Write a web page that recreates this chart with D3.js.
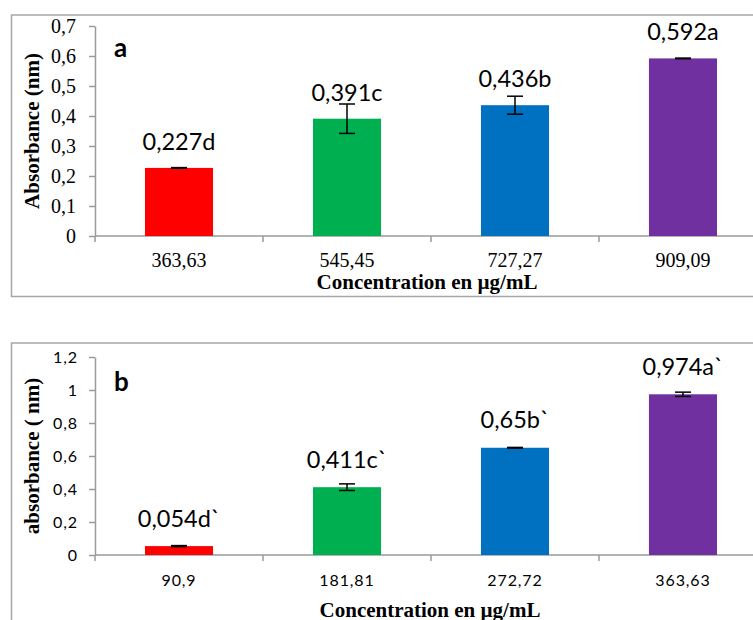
<!DOCTYPE html>
<html>
<head>
<meta charset="utf-8">
<script src="https://cdn.jsdelivr.net/npm/d3@7"></script>
<style>
  html, body { margin: 0; padding: 0; background: #fff; }
  svg { display: block; }
</style>
</head>
<body>
<svg id="chart" width="753" height="620"></svg>
<script>
// Panel a: extract concentrations and absorbances
const concA = ["363,63", "545,45", "727,27", "909,09"];
const absA = [0.227, 0.391, 0.436, 0.592];
const errA = [0.001, 0.049, 0.030, 0.001];
const lettersA = ["d", "c", "b", "a"];
const ticksA = [0, 0.1, 0.2, 0.3, 0.4, 0.5, 0.6, 0.7];

// Panel b
const concB = ["90,9", "181,81", "272,72", "363,63"];
const absB = [0.054, 0.411, 0.65, 0.974];
const errB = [0.003, 0.020, 0.002, 0.013];
const lettersB = ["d`", "c`", "b`", "a`"];
const ticksB = [0, 0.2, 0.4, 0.6, 0.8, 1, 1.2];

const barColors = ["#FF0000", "#00B050", "#0070C0", "#7030A0"];

const svg = d3.select("#chart");
const comma = v => String(+v.toFixed(3)).replace(".", ",");
const AXIS = "#9a9a9a";
const SERIF = "'Liberation Serif', 'Times New Roman', serif";
const SANS = "Lato, 'Open Sans', sans-serif";

function panel(opt) {
  const g = svg.append("g");

  // frame around the panel
  g.append("rect")
    .attr("x", 11.5).attr("y", opt.boxTop)
    .attr("width", 760).attr("height", opt.boxBottom - opt.boxTop)
    .attr("fill", "none").attr("stroke", "#a6a6a6").attr("stroke-width", 1.5);

  const x = d3.scaleBand()
    .domain(opt.cats)
    .range([95, 767])
    .paddingInner(0.595)
    .paddingOuter(0.2976);
  const y = d3.scaleLinear().domain(opt.domain).range([opt.y0, opt.yTop]);

  // y axis
  const yAxis = d3.axisLeft(y)
    .tickValues(opt.ticks)
    .tickSize(6)
    .tickSizeOuter(0)
    .tickPadding(opt.tickPad)
    .tickFormat(comma);
  const ya = g.append("g").attr("transform", "translate(95,0)").call(yAxis);
  ya.select(".domain").attr("stroke", AXIS).attr("stroke-width", 1.5);
  ya.selectAll(".tick line").attr("stroke", AXIS).attr("stroke-width", 1.5);
  ya.selectAll(".tick text")
    .attr("fill", "#000")
    .style("font-family", opt.tickFont)
    .style("font-size", opt.tickSize + "px")
    .style("letter-spacing", opt.tickSpacing + "px");

  // x axis line with boundary ticks between categories
  const [x0, x1] = x.range();
  g.append("line")
    .attr("x1", x0).attr("x2", x1)
    .attr("y1", opt.y0).attr("y2", opt.y0)
    .attr("stroke", AXIS).attr("stroke-width", 1.5);
  const half = x.step() * x.paddingInner() / 2;
  const bounds = opt.cats.map(c => x(c) - half).concat([x(opt.cats[opt.cats.length - 1]) + x.bandwidth() + half]);
  g.selectAll(".xtick").data(bounds).join("line")
    .attr("x1", d => d).attr("x2", d => d)
    .attr("y1", opt.y0).attr("y2", opt.y0 + 6)
    .attr("stroke", AXIS).attr("stroke-width", 1.5);

  // category labels
  g.selectAll(".xlab").data(opt.cats).join("text")
    .attr("x", d => x(d) + x.bandwidth() / 2)
    .attr("y", opt.y0 + 31)
    .attr("text-anchor", "middle")
    .style("font-family", opt.tickFont)
    .style("font-size", opt.tickSize + "px")
    .style("letter-spacing", opt.tickSpacing + "px")
    .text(d => d);

  // bars
  g.selectAll(".bar").data(opt.values).join("rect")
    .attr("x", (d, i) => x(opt.cats[i]))
    .attr("y", d => y(d))
    .attr("width", x.bandwidth())
    .attr("height", d => y(0) - y(d))
    .attr("fill", (d, i) => barColors[i]);

  // error bars
  const eb = g.selectAll(".err").data(opt.values).join("g")
    .attr("transform", (d, i) => `translate(${x(opt.cats[i]) + x.bandwidth() / 2},0)`)
    .attr("stroke", "#000").attr("stroke-width", 1.5);
  eb.append("line")
    .attr("y1", (d, i) => y(d + opt.errs[i]))
    .attr("y2", (d, i) => y(d - opt.errs[i]));
  eb.append("line").attr("x1", -8).attr("x2", 8)
    .attr("y1", (d, i) => y(d + opt.errs[i])).attr("y2", (d, i) => y(d + opt.errs[i]));
  eb.append("line").attr("x1", -8).attr("x2", 8)
    .attr("y1", (d, i) => y(d - opt.errs[i])).attr("y2", (d, i) => y(d - opt.errs[i]));

  // value labels with significance letters
  g.selectAll(".val").data(opt.values).join("text")
    .attr("x", (d, i) => x(opt.cats[i]) + x.bandwidth() / 2)
    .attr("y", d => y(d) - opt.labelOffset)
    .attr("text-anchor", "middle")
    .style("font-family", SANS)
    .style("font-size", "23.5px")
    .text((d, i) => comma(d) + opt.letters[i]);

  // panel letter
  g.append("text")
    .attr("x", 114).attr("y", opt.letterY)
    .style("font-family", SANS)
    .style("font-weight", "bold")
    .style("font-size", "26px")
    .text(opt.panel);

  // axis titles
  g.append("text")
    .attr("transform", `translate(38.5,${(opt.y0 + opt.yTop) / 2}) rotate(-90)`)
    .attr("text-anchor", "middle")
    .style("font-family", SERIF)
    .style("font-weight", "bold")
    .style("font-size", "21px")
    .text(opt.yTitle);
  g.append("text")
    .attr("x", opt.xTitleX).attr("y", opt.xTitleY)
    .attr("text-anchor", "middle")
    .style("font-family", SERIF)
    .style("font-weight", "bold")
    .style("font-size", "21px")
    .text("Concentration en µg/mL");
}

panel({
  cats: concA, values: absA, errs: errA, letters: lettersA, ticks: ticksA,
  domain: [0, 0.7], y0: 236, yTop: 26, boxTop: 15, boxBottom: 296.5,
  tickFont: SERIF, tickSize: 20, tickSpacing: 0, tickPad: 13,
  labelOffset: 18, panel: "a", letterY: 57,
  yTitle: "Absorbance (nm)", xTitleX: 427, xTitleY: 289
});

panel({
  cats: concB, values: absB, errs: errB, letters: lettersB, ticks: ticksB,
  domain: [0, 1.2], y0: 555, yTop: 357, boxTop: 343, boxBottom: 640,
  tickFont: SANS, tickSize: 16, tickSpacing: 0.9, tickPad: 11,
  labelOffset: 19.5, panel: "b", letterY: 391,
  yTitle: "absorbance ( nm)", xTitleX: 430, xTitleY: 616.5
});
</script>
</body>
</html>
